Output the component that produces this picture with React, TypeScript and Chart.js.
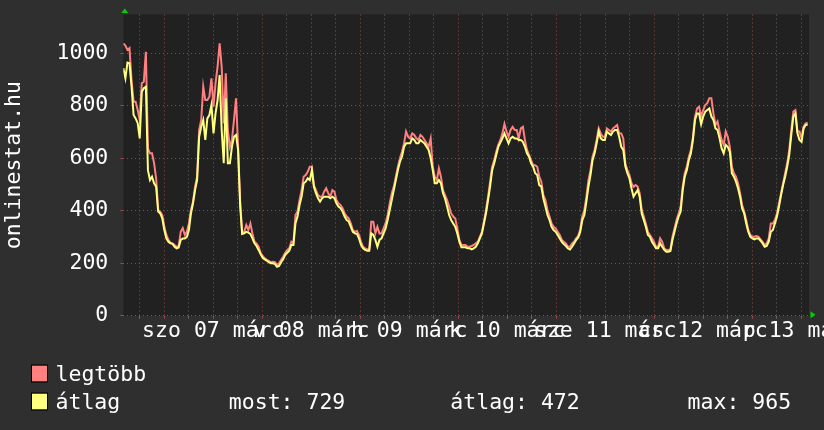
import React, { useEffect, useRef } from 'react';
import Chart from 'chart.js/auto';

// Time axis: hours relative to szo 07 márc 00:00, one week window
const START_HOUR = -10.04;
const STEP_HOURS = 0.502;
const X_MIN = -10.05;
const X_MAX = 157.95;
const Y_MIN = 0;
const Y_MAX = 1148;

const DAY_LABELS = ['szo 07 márc', 'v 08 márc', 'h 09 márc', 'k 10 márc', 'sze 11 márc', 'cs 12 márc', 'p 13 márc'];
const Y_TICK_VALUES = [0, 100, 200, 300, 400, 500, 600, 700, 800, 900, 1000, 1100];
const Y_TITLE = 'onlinestat.hu';

const SERIES_NAMES = ['legtöbb', 'átlag'];
const STATS_TEXT = ['most: 729', 'átlag: 472', 'max: 965'];

// legtöbb (max), sampled every ~30 minutes
const LEGTOBB = [
  1038, 1030, 1013, 1020, 898, 816, 816, 784, 746, 886, 892, 1006, 638, 619, 619, 582, 524, 403, 397, 384,
  339, 308, 289, 278, 276, 270, 263, 265, 320, 334, 308, 320, 352, 403, 435, 492, 530, 708, 746, 873,
  822, 822, 835, 905, 797, 886, 949, 1038, 949, 733, 924, 708, 644, 670, 746, 829, 644, 440,
  314, 320, 346, 327, 352, 314, 282, 276, 263, 240, 228, 219, 213, 209, 204, 206, 204, 194, 200, 213,
  225, 240, 251, 257, 282, 276, 384, 397, 441, 479, 530, 536, 549, 568, 568, 498, 479, 460, 454, 454,
  473, 486, 467, 454, 479, 473, 441, 429, 422, 410, 391, 378, 371, 352, 327, 320,
  324, 308, 282, 263, 257, 253, 253, 358, 358, 314, 339, 314, 314, 333, 352, 384, 428, 467, 492, 530,
  568, 600, 625, 657, 702, 682, 676, 695, 689, 676, 670, 689, 682, 670, 657, 644, 676, 568, 530, 517,
  562, 530, 479, 460, 441, 416, 390, 378, 371, 333, 289, 270, 270, 270, 263, 263, 266,
  270, 276, 282, 301, 320, 358, 403, 454, 511, 568, 593, 625, 651, 670, 695, 731, 702, 682, 708, 720,
  708, 708, 676, 714, 720, 670, 632, 613, 593, 574, 574, 568, 530, 511, 460, 441, 403, 378, 352, 339,
  333, 320, 308, 289, 282, 276, 263, 263, 276, 282, 295, 305, 330, 378,
  403, 454, 517, 555, 606, 632, 670, 714, 695, 682, 682, 714, 708, 702, 714, 720, 727, 695, 695, 676,
  580, 555, 536, 505, 492, 498, 492, 467, 403, 378, 352, 320, 308, 295, 282, 263, 263, 295, 282, 257,
  251, 251, 253, 301, 333, 365, 390, 416, 492, 543, 568, 606, 632, 682, 758, 790, 797,
  760, 784, 803, 810, 829, 829, 771, 727, 740, 702, 670, 651, 702, 682, 644, 568, 543, 530, 505, 467,
  422, 397, 365, 327, 308, 301, 301, 304, 301, 291, 282, 270, 276, 295, 352, 352, 365, 390, 428, 467,
  505, 543, 581, 632, 708, 778, 784, 702, 702, 676, 721, 733, 736,
];

// átlag (average), same sampling
const ATLAG = [
  943, 905, 965, 962, 873, 765, 752, 734, 676, 854, 867, 873, 555, 517, 530, 505, 492, 397, 390, 371,
  327, 295, 282, 276, 274, 263, 257, 260, 289, 295, 295, 301, 327, 390, 429, 479, 517, 682, 720, 746,
  670, 752, 765, 803, 695, 771, 822, 917, 708, 581, 829, 581, 581, 644, 682, 689, 632, 420,
  312, 314, 320, 317, 312, 295, 276, 266, 251, 235, 221, 215, 210, 204, 200, 200, 197, 187, 190, 204,
  215, 232, 240, 248, 270, 270, 352, 378, 422, 454, 505, 511, 524, 517, 555, 492, 467, 448, 435, 448,
  454, 454, 454, 448, 454, 448, 429, 416, 410, 397, 378, 365, 359, 340, 320, 314,
  312, 295, 270, 257, 251, 248, 248, 314, 308, 289, 263, 289, 295, 314, 333, 365, 403, 441, 479, 517,
  555, 587, 606, 644, 657, 657, 657, 676, 670, 657, 657, 670, 663, 657, 644, 632, 600, 555, 505, 505,
  517, 505, 467, 447, 416, 384, 365, 352, 339, 314, 282, 261, 261, 261, 257, 257, 253,
  257, 263, 276, 295, 314, 352, 390, 441, 492, 555, 581, 613, 644, 660, 676, 695, 676, 657, 676, 682,
  676, 676, 670, 670, 663, 644, 619, 606, 581, 568, 543, 536, 498, 492, 447, 416, 384, 365, 339, 327,
  320, 308, 295, 282, 273, 266, 257, 253, 263, 276, 289, 298, 320, 365,
  384, 435, 492, 536, 593, 619, 657, 702, 676, 670, 670, 702, 695, 689, 702, 708, 708, 682, 644, 632,
  570, 543, 524, 486, 454, 467, 479, 454, 390, 365, 339, 308, 301, 282, 270, 257, 257, 276, 263, 251,
  244, 244, 247, 289, 320, 352, 378, 397, 479, 530, 555, 593, 619, 670, 746, 771, 771,
  730, 759, 778, 784, 790, 759, 746, 714, 708, 676, 638, 619, 651, 644, 625, 543, 530, 511, 486, 454,
  409, 390, 352, 320, 301, 295, 291, 295, 295, 286, 276, 263, 266, 282, 320, 327, 352, 378, 416, 460,
  498, 530, 568, 613, 689, 759, 771, 695, 670, 663, 714, 727, 729,
];

const FONT = '"DejaVu Sans Mono", monospace';
const PAGE_BG = '#2f2f2f';
const PLOT_BG = '#212121';
const RED = '#ff8080';
const YELLOW = '#ffff80';
const GRID_MINOR = 'rgba(140,140,140,0.6)';
const GRID_MAJOR = 'rgba(190,80,80,0.75)';
const ARROW = '#00d000';

const X_TICK_HOURS: number[] = [];
for (let h = -6; h <= 156; h += 6) X_TICK_HOURS.push(h);

const decorPlugin = {
  id: 'rrdDecor',
  beforeDraw(chart: any) {
    const { ctx, chartArea: a } = chart;
    ctx.save();
    ctx.fillStyle = PAGE_BG;
    ctx.fillRect(0, 0, chart.width, chart.height);
    ctx.fillStyle = PLOT_BG;
    ctx.fillRect(a.left, a.top, a.right - a.left, a.bottom - a.top);
    ctx.restore();
  },
  afterDraw(chart: any) {
    const { ctx, chartArea: a } = chart;
    ctx.save();
    // axis arrows
    ctx.fillStyle = ARROW;
    const ax = a.left + 1.5;
    ctx.beginPath();
    ctx.moveTo(ax - 3.5, a.top - 1.5);
    ctx.lineTo(ax + 3.5, a.top - 1.5);
    ctx.lineTo(ax, a.top - 6);
    ctx.closePath();
    ctx.fill();
    const ay = a.bottom - 1;
    ctx.beginPath();
    ctx.moveTo(a.right + 1.5, ay - 3.5);
    ctx.lineTo(a.right + 1.5, ay + 3.5);
    ctx.lineTo(a.right + 6.5, ay);
    ctx.closePath();
    ctx.fill();

    // legend
    const rows = [
      { color: RED, name: SERIES_NAMES[0], base: 380.7, boxTop: 365.5 },
      { color: YELLOW, name: SERIES_NAMES[1], base: 408.7, boxTop: 393.5 },
    ];
    ctx.font = '21.5px ' + FONT;
    ctx.textBaseline = 'alphabetic';
    ctx.textAlign = 'left';
    rows.forEach((r) => {
      ctx.fillStyle = r.color;
      ctx.fillRect(32, r.boxTop, 15, 16);
      ctx.strokeStyle = '#000';
      ctx.lineWidth = 1;
      ctx.strokeRect(31.5, r.boxTop - 0.5, 16, 17);
      ctx.fillStyle = '#ffffff';
      ctx.fillText(r.name, 55.5, r.base);
    });
    ctx.fillStyle = '#ffffff';
    ctx.fillText(STATS_TEXT[0], 228.8, 408.7);
    ctx.fillText(STATS_TEXT[1], 450.3, 408.7);
    ctx.fillText(STATS_TEXT[2], 687.6, 408.7);
    ctx.restore();
  },
};

export default function App() {
  const ref = useRef<HTMLCanvasElement>(null);
  useEffect(() => {
    document.body.style.margin = '0';
    document.body.style.background = PAGE_BG;
    const canvas = ref.current;
    if (!canvas) return;
    const maxData = LEGTOBB.map((v, i) => ({ x: START_HOUR + i * STEP_HOURS, y: v }));
    const avgData = ATLAG.map((v, i) => ({ x: START_HOUR + i * STEP_HOURS, y: v }));

    const xGrid = (c: any) => {
      const v = c.tick ? c.tick.value : 1;
      return ((v % 24) + 24) % 24 === 0 ? GRID_MAJOR : GRID_MINOR;
    };
    const yGrid = (c: any) => {
      const v = c.tick ? c.tick.value : 1;
      return v !== 0 && v % 200 === 0 ? GRID_MAJOR : GRID_MINOR;
    };

    const chart = new Chart(canvas, {
      type: 'line',
      data: {
        datasets: [
          { label: SERIES_NAMES[0], data: maxData, borderColor: RED, backgroundColor: RED, borderWidth: 2, pointRadius: 0, tension: 0, fill: false, order: 2 },
          { label: SERIES_NAMES[1], data: avgData, borderColor: YELLOW, backgroundColor: YELLOW, borderWidth: 2, pointRadius: 0, tension: 0, fill: false, order: 1 },
        ],
      },
      options: {
        animation: false,
        responsive: false,
        devicePixelRatio: 1,
        layout: { padding: { top: 14.5, right: 15, bottom: 0, left: 0 } },
        plugins: { legend: { display: false }, tooltip: { enabled: false } },
        scales: {
          x: {
            type: 'linear',
            min: X_MIN,
            max: X_MAX,
            afterBuildTicks: (s: any) => {
              s.ticks = X_TICK_HOURS.map((v) => ({ value: v }));
            },
            afterFit: (s: any) => {
              s.height = 114.2;
              s.paddingLeft = 0;
              s.paddingRight = 0;
            },
            ticks: {
              autoSkip: false,
              maxRotation: 0,
              minRotation: 0,
              color: '#ffffff',
              font: { family: FONT, size: 21.5 },
              padding: 0,
              callback: (value: any) => {
                const v = Number(value);
                if (((v % 24) + 24) % 24 === 12) {
                  const idx = (v - 12) / 24;
                  return DAY_LABELS[idx] ?? '';
                }
                return '';
              },
            },
            grid: { color: xGrid, tickColor: xGrid, lineWidth: 1, drawTicks: true, tickLength: 3 },
            border: { display: false, dash: [1, 3] },
          },
          y: {
            type: 'linear',
            min: Y_MIN,
            max: Y_MAX,
            afterBuildTicks: (s: any) => {
              s.ticks = Y_TICK_VALUES.map((v) => ({ value: v }));
            },
            afterFit: (s: any) => {
              s.width = 123.3;
              s.paddingTop = 0;
              s.paddingBottom = 0;
            },
            ticks: {
              color: '#ffffff',
              font: { family: FONT, size: 21.5 },
              padding: 12,
              callback: (value: any) => (Number(value) % 200 === 0 ? String(value) : ''),
            },
            grid: { color: yGrid, tickColor: yGrid, lineWidth: 1, drawTicks: true, tickLength: 3 },
            border: { display: false, dash: [1, 3] },
            title: {
              display: true,
              text: Y_TITLE,
              color: '#ffffff',
              font: { family: FONT, size: 21.5 },
              padding: { top: 2, bottom: 0 },
            },
          },
        },
      },
      plugins: [decorPlugin],
    } as any);
    return () => chart.destroy();
  }, []);
  return (
    <div style={{ width: 824, height: 430 }}>
      <canvas ref={ref} width={824} height={430} style={{ display: 'block', width: 824, height: 430 }} />
    </div>
  );
}
